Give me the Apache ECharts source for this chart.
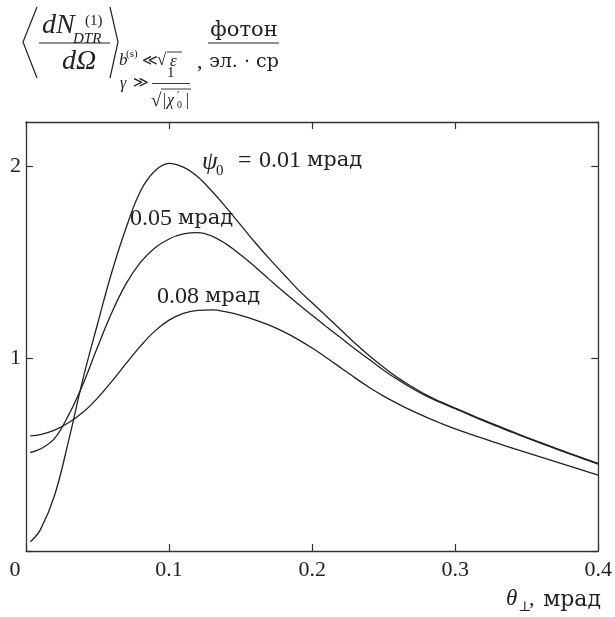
<!DOCTYPE html>
<html><head><meta charset="utf-8">
<script src="https://cdn.jsdelivr.net/npm/echarts@6/dist/echarts.min.js"></script>
<style>html,body{margin:0;padding:0;background:#fff}#c{width:615px;height:617px}</style>
</head><body><div id="c"></div>
<script>
// θ⊥ (mrad)
const theta = [0.003,0.01,0.02,0.03,0.04,0.05,0.06,0.07,0.08,0.09,0.10,0.11,0.12,0.13,0.14,0.15,0.16,0.17,0.18,0.19,0.20,
               0.21,0.22,0.23,0.24,0.25,0.26,0.27,0.28,0.29,0.30,0.31,0.32,0.33,0.34,0.35,0.36,0.37,0.38,0.39,0.40];
// ψ0 = 0.01 mrad
const psi001 = [0.048,0.11,0.29,0.58,0.90,1.18,1.45,1.68,1.87,1.975,2.015,1.995,1.945,1.87,1.785,1.695,1.605,1.52,1.44,1.36,1.29,
                1.22,1.15,1.08,1.015,0.955,0.90,0.853,0.81,0.775,0.743,0.711,0.68,0.65,0.62,0.591,0.563,0.535,0.508,0.481,0.455];
// ψ0 = 0.05 mrad
const psi005 = [0.512,0.53,0.585,0.71,0.87,1.06,1.24,1.39,1.50,1.575,1.622,1.648,1.655,1.637,1.595,1.54,1.478,1.412,1.347,1.285,1.225,
                1.166,1.108,1.05,0.995,0.94,0.89,0.845,0.805,0.771,0.74,0.708,0.676,0.646,0.616,0.588,0.56,0.532,0.505,0.478,0.452];
// ψ0 = 0.08 mrad
const psi008 = [0.598,0.605,0.628,0.668,0.722,0.795,0.882,0.975,1.065,1.143,1.2,1.235,1.251,1.253,1.243,1.225,1.202,1.174,1.14,1.1,1.055,
                1.005,0.953,0.9,0.85,0.805,0.765,0.728,0.695,0.664,0.635,0.609,0.584,0.559,0.535,0.511,0.488,0.465,0.441,0.418,0.394];
const seriesValues = ['0.01','0.05','0.08'];
const unit = 'мрад';
const xTickStep = 0.1, xMin = 0, xMax = 0.4;
const yTickStep = 1, yMin = 0, yMax = 2.23;

const FF = '"Liberation Serif", "DejaVu Serif", serif';
const FC = '"DejaVu Serif", serif';
const INK = '#222';
const chart = echarts.init(document.getElementById('c'));
const toPairs = ys => theta.map((t,i)=>[t, ys[i]]);
const axLine = {show:true, onZero:false, lineStyle:{color:'#333', width:1.3}};
const axTick = {show:true, inside:true, length:7, lineStyle:{color:'#333', width:1.2}};

function T(x,y,text,size,opt){
  opt = opt||{};
  const st = {text:text,
    font:(opt.italic?'italic ':'')+size+'px '+(opt.cyr?FC:FF), fill:INK,
    textAlign:opt.align||'left', textVerticalAlign:'middle', align:opt.align||'left', verticalAlign:'middle'};
  if (opt.rich) st.rich = opt.rich;
  return {type:'text', x:x, y:y, silent:true, style:st};
}
function L(pts,w){ return {type:'polyline', silent:true, shape:{points:pts}, style:{stroke:INK, lineWidth:w||1.2, fill:null}}; }
const labelRich = {
  n:{fontFamily:FF, fontSize:24, color:INK},
  u:{fontFamily:FC, fontSize:21, color:INK}
};
const lbl = v => '{n|' + v + ' }{u|' + unit + '}';

const graphics = [
  // ⟨ dN^(1)_DTR / dΩ ⟩
  L([[37,7],[23,42],[37,78]],1.2),
  L([[110,7],[118,42],[110,78]],1.2),
  T(42,26,'dN',28,{italic:true}),
  T(85,21,'(1)',15),
  T(73,39,'DTR',15,{italic:true}),
  L([[39,43],[110,43]],1.1),
  T(62,62,'dΩ',28,{italic:true}),
  // subscript b^(s) ≪ √ε
  T(119,61,'b',17,{italic:true}),
  T(126,54,'(s)',11),
  T(142,61,'≪',15),
  T(157,61,'√',17),
  T(170,62,'ε',17,{italic:true}),
  L([[167,52],[182,52]],0.9),
  T(197,62,',',22),
  // γ ≫ 1/√|χ'0|
  T(120,84,'γ',16,{italic:true}),
  T(133,83,'≫',15),
  T(167,73,'1',15),
  L([[152,83.5],[190,83.5]],0.9),
  T(151,101,'√',19),
  L([[161,89],[191,89]],0.9),
  T(163,101,'|',16),
  T(167,101,'χ',16,{italic:true}),
  T(177,95,'′',11),
  T(177,105,'0',10),
  T(186,101,'|',16),
  // фотон / эл.·ср
  T(244,31,'фотон',21,{align:'center', cyr:true}),
  L([[208,43],[279,43]],1.1),
  T(244,62,'эл. · ср',19,{align:'center', cyr:true}),
  // curve labels
  T(202,162,'ψ',25,{italic:true}),
  T(216,171,'0',15),
  T(238,161,'=',24),
  T(259,161,lbl(seriesValues[0]),24,{rich:labelRich}),
  T(130,219,lbl(seriesValues[1]),24,{rich:labelRich}),
  T(157,297,lbl(seriesValues[2]),24,{rich:labelRich}),
  // axis name θ⊥, мрад
  T(601,600,'мрад',22,{align:'right', cyr:true}),
  T(529,599,',',22),
  T(506,599,'θ',23,{italic:true}),
  T(518,607,'⊥',14)
];

const option = {
  animation:false,
  backgroundColor:'#fff',
  grid:{left:26, right:14, top:122, bottom:66, containLabel:false},
  xAxis:[
    {type:'value', min:xMin, max:xMax, interval:xTickStep, position:'bottom',
     axisLine:axLine, axisTick:axTick, splitLine:{show:false},
     axisLabel:{fontFamily:FF, fontSize:22, color:INK, margin:8,
       formatter:v => v===0 ? '{z|0}' : (Math.round(v*10)/10).toString(),
       rich:{z:{fontFamily:FF, fontSize:22, color:INK, padding:[0,22,0,0]}}}},
    {type:'value', min:xMin, max:xMax, interval:xTickStep, position:'top',
     axisLine:axLine, axisTick:axTick, splitLine:{show:false}, axisLabel:{show:false}}
  ],
  yAxis:[
    {type:'value', min:yMin, max:yMax, interval:yTickStep, position:'left',
     axisLine:axLine, axisTick:axTick, splitLine:{show:false},
     axisLabel:{fontFamily:FF, fontSize:22, color:INK, margin:5, showMaxLabel:false,
       formatter:v => (v===1||v===2) ? String(v) : ''}},
    {type:'value', min:yMin, max:yMax, interval:yTickStep, position:'right',
     axisLine:axLine, axisTick:axTick, splitLine:{show:false}, axisLabel:{show:false}}
  ],
  series:[psi001,psi005,psi008].map((ys,k)=>({
    name:seriesValues[k]+' '+unit, type:'line', data:toPairs(ys), smooth:0.4, showSymbol:false,
    xAxisIndex:0, yAxisIndex:0, lineStyle:{color:INK, width:1.3}, silent:true
  })),
  graphic:graphics
};
chart.setOption(option);
</script></body></html>
